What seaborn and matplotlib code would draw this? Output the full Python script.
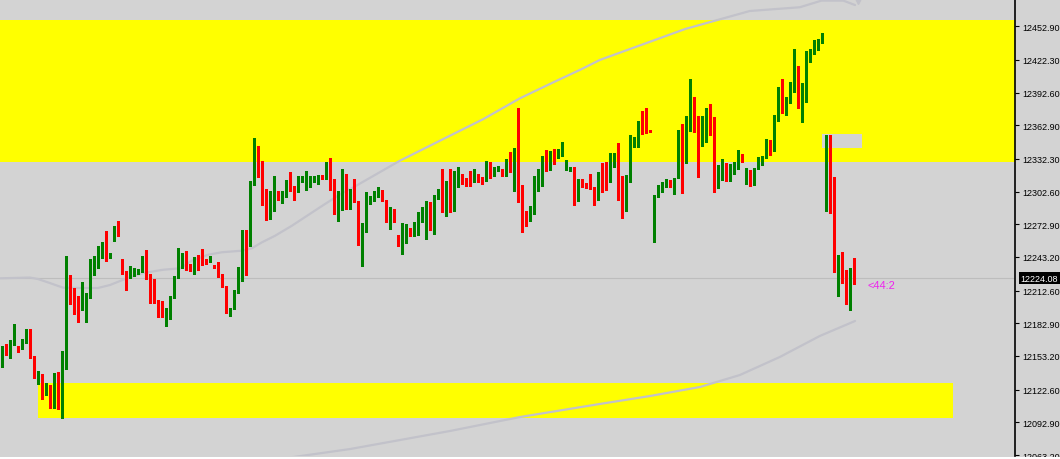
import numpy as np
import pandas as pd
import seaborn as sns
import matplotlib.pyplot as plt
import matplotlib.transforms as mtransforms
from matplotlib.patches import Rectangle

# candle data (one bar per slot)
open_ = [
    12150.7, 12157.7, 12157.1, 12163.5, 12161.4, 12161.4, 12168.0, 12176.8, 12152.3, 12134.4,
    12136.8, 12118.6, 12126.8, 12108.9, 12134.1, 12116.2, 12148.9, 12214.1, 12211.1, 12200.5,
    12195.3, 12194.4, 12209.5, 12232.3, 12233.2, 12246.5, 12256.8, 12243.5, 12263.2, 12271.1,
    12236.8, 12228.9, 12225.9, 12227.7, 12227.7, 12230.2, 12242.3, 12226.2, 12206.2, 12203.5,
    12195.0, 12193.2, 12194.4, 12206.2, 12233.5, 12236.8, 12240.5, 12234.4, 12231.6, 12239.5,
    12247.4, 12241.4, 12238.9, 12235.9, 12232.3, 12227.7, 12216.2, 12193.5, 12195.9, 12212.5,
    12233.8, 12262.3, 12256.5, 12317.1, 12343.2, 12317.7, 12297.4, 12288.4, 12294.4, 12303.2,
    12298.9, 12298.9, 12314.1, 12305.6, 12305.6, 12314.1, 12304.1, 12309.5, 12312.5, 12314.7,
    12316.8, 12314.1, 12329.3, 12312.5, 12285.9, 12293.4, 12310.4, 12293.4, 12302.0, 12294.1,
    12261.6, 12268.6, 12293.4, 12295.9, 12299.5, 12304.1, 12289.8, 12271.6, 12280.7, 12263.2,
    12253.4, 12263.2, 12265.6, 12262.5, 12268.6, 12277.7, 12281.4, 12289.8, 12270.7, 12298.3,
    12302.5, 12287.7, 12304.3, 12292.9, 12310.4, 12316.5, 12314.7, 12315.3, 12313.4, 12315.0,
    12314.1, 12314.1, 12324.1, 12318.6, 12321.6, 12322.3, 12318.6, 12331.4, 12324.1, 12338.3,
    12305.0, 12281.6, 12277.7, 12284.1, 12313.4, 12319.5, 12328.6, 12327.1, 12335.9, 12334.8,
    12336.8, 12324.1, 12321.6, 12325.0, 12294.4, 12312.5, 12308.6, 12307.7, 12306.8, 12301.6,
    12315.0, 12319.3, 12311.6, 12328.6, 12332.9, 12301.4, 12298.9, 12312.0, 12344.3, 12345.9,
    12366.2, 12365.0, 12358.6, 12266.2, 12298.0, 12303.4, 12310.2, 12312.5, 12307.4, 12315.6,
    12353.4, 12342.3, 12362.5, 12386.8, 12366.8, 12359.5, 12359.5, 12371.1, 12358.6, 12314.1,
    12320.2, 12323.8, 12315.0, 12320.2, 12324.1, 12334.3, 12310.2, 12322.3, 12312.5, 12323.2,
    12331.6, 12333.8, 12346.8, 12339.8, 12367.1, 12387.7, 12374.1, 12383.2, 12400.4, 12414.1,
    12390.4, 12392.3, 12424.1, 12428.6, 12434.7, 12437.7, 12308.0, 12354.1, 12290.4, 12235.3,
    12242.3, 12221.1, 12201.4, 12233.2,
]
high = [
    12162.5, 12164.1, 12167.7, 12182.3, 12162.5, 12168.3, 12177.7, 12177.3, 12152.8, 12139.3,
    12137.2, 12128.9, 12127.2, 12137.7, 12138.6, 12157.7, 12244.1, 12226.8, 12214.7, 12207.5,
    12220.5, 12210.9, 12241.4, 12244.1, 12252.9, 12257.1, 12266.8, 12247.1, 12271.5, 12275.9,
    12241.4, 12230.7, 12235.0, 12233.5, 12232.3, 12244.4, 12249.5, 12227.5, 12223.2, 12203.9,
    12203.2, 12197.1, 12207.9, 12226.3, 12251.4, 12246.8, 12248.6, 12236.8, 12242.9, 12245.0,
    12250.4, 12241.8, 12243.8, 12236.3, 12238.4, 12228.1, 12216.6, 12197.2, 12213.2, 12234.2,
    12268.0, 12268.0, 12312.5, 12351.3, 12344.3, 12330.4, 12305.0, 12303.4, 12317.1, 12303.6,
    12303.4, 12313.2, 12320.2, 12308.0, 12317.1, 12317.1, 12321.4, 12317.1, 12317.1, 12318.0,
    12317.7, 12329.8, 12333.4, 12314.1, 12303.4, 12323.2, 12318.6, 12305.0, 12314.1, 12294.5,
    12274.1, 12302.4, 12298.9, 12302.9, 12307.1, 12304.5, 12295.0, 12288.4, 12286.8, 12263.6,
    12274.1, 12273.2, 12269.3, 12274.7, 12283.8, 12288.4, 12294.4, 12292.9, 12299.3, 12305.0,
    12323.2, 12312.0, 12323.2, 12321.6, 12324.7, 12318.6, 12315.1, 12321.6, 12323.2, 12318.6,
    12315.6, 12330.2, 12329.8, 12324.7, 12326.2, 12323.2, 12332.7, 12338.3, 12342.0, 12378.3,
    12308.6, 12285.3, 12289.1, 12317.1, 12323.2, 12335.0, 12340.3, 12339.8, 12341.3, 12341.3,
    12348.0, 12331.4, 12325.3, 12325.4, 12314.1, 12314.1, 12310.9, 12318.6, 12307.2, 12320.0,
    12328.6, 12329.3, 12337.7, 12337.7, 12346.8, 12317.1, 12318.0, 12354.3, 12352.5, 12367.1,
    12375.6, 12378.3, 12358.8, 12299.3, 12308.6, 12311.1, 12314.1, 12312.9, 12314.7, 12358.6,
    12364.1, 12371.1, 12405.0, 12388.9, 12371.1, 12371.1, 12378.6, 12382.3, 12370.2, 12326.8,
    12332.3, 12328.6, 12327.7, 12329.3, 12340.4, 12336.8, 12323.8, 12322.7, 12323.8, 12334.3,
    12334.7, 12350.4, 12349.8, 12372.3, 12397.4, 12405.0, 12388.3, 12402.0, 12432.2, 12416.5,
    12401.1, 12430.7, 12432.2, 12440.4, 12441.3, 12447.2, 12353.8, 12354.5, 12316.2, 12245.0,
    12248.0, 12231.6, 12233.6, 12242.3,
]
low = [
    12143.5, 12154.4, 12151.6, 12163.0, 12157.1, 12159.5, 12165.3, 12151.4, 12133.5, 12127.7,
    12114.1, 12117.7, 12105.9, 12105.6, 12105.0, 12096.8, 12141.4, 12200.2, 12191.4, 12184.4,
    12195.0, 12184.4, 12205.6, 12227.1, 12232.8, 12242.3, 12239.5, 12242.3, 12258.0, 12262.5,
    12227.7, 12213.5, 12224.4, 12226.2, 12227.3, 12229.3, 12223.2, 12201.4, 12201.1, 12188.4,
    12188.4, 12180.7, 12186.8, 12205.8, 12224.1, 12232.9, 12231.6, 12230.7, 12227.7, 12231.6,
    12235.9, 12236.8, 12238.5, 12233.1, 12224.7, 12216.2, 12192.0, 12189.5, 12195.5, 12210.2,
    12221.6, 12226.8, 12253.4, 12308.6, 12315.6, 12290.4, 12277.1, 12277.7, 12285.3, 12295.3,
    12292.3, 12297.4, 12303.4, 12295.3, 12302.0, 12311.1, 12303.7, 12306.5, 12311.1, 12309.5,
    12314.1, 12313.7, 12304.1, 12282.3, 12276.2, 12286.2, 12286.8, 12286.8, 12292.9, 12254.4,
    12235.3, 12266.2, 12291.4, 12294.4, 12297.4, 12294.4, 12275.0, 12268.6, 12274.9, 12252.9,
    12245.9, 12255.9, 12262.3, 12262.0, 12263.2, 12274.7, 12259.5, 12267.7, 12264.1, 12295.9,
    12284.4, 12280.7, 12283.8, 12285.3, 12306.5, 12309.5, 12307.4, 12307.4, 12311.6, 12311.6,
    12309.5, 12312.5, 12315.0, 12316.5, 12321.2, 12317.1, 12317.1, 12320.7, 12303.4, 12292.9,
    12265.6, 12271.1, 12275.7, 12282.3, 12303.4, 12307.4, 12321.6, 12322.5, 12328.0, 12333.3,
    12335.3, 12322.7, 12321.2, 12290.4, 12294.0, 12306.8, 12305.6, 12305.0, 12290.6, 12295.3,
    12302.0, 12304.3, 12311.2, 12325.3, 12295.3, 12278.6, 12285.3, 12311.6, 12343.4, 12343.4,
    12355.0, 12355.6, 12356.9, 12257.1, 12297.4, 12302.5, 12306.5, 12306.9, 12300.4, 12315.2,
    12301.4, 12328.6, 12358.0, 12357.1, 12316.2, 12344.3, 12347.4, 12354.3, 12302.5, 12305.9,
    12313.2, 12312.5, 12312.5, 12318.6, 12323.2, 12329.8, 12309.5, 12307.4, 12308.9, 12322.8,
    12327.1, 12333.2, 12336.2, 12339.4, 12366.7, 12374.1, 12372.3, 12382.8, 12392.9, 12378.6,
    12366.2, 12384.3, 12420.2, 12427.7, 12431.6, 12437.3, 12285.3, 12282.9, 12229.3, 12208.0,
    12219.5, 12200.5, 12195.0, 12218.6,
]
close = [
    12157.5, 12156.8, 12164.7, 12174.1, 12158.6, 12167.7, 12175.0, 12152.0, 12134.4, 12136.8,
    12118.0, 12125.9, 12108.0, 12134.1, 12115.3, 12149.6, 12214.1, 12210.7, 12199.8, 12195.3,
    12196.2, 12210.5, 12233.2, 12235.0, 12247.7, 12255.6, 12239.9, 12245.9, 12271.1, 12265.0,
    12228.1, 12226.2, 12226.8, 12229.5, 12230.7, 12241.4, 12224.1, 12206.2, 12202.3, 12194.4,
    12192.3, 12195.0, 12207.5, 12225.9, 12237.7, 12240.5, 12236.8, 12231.4, 12237.1, 12236.8,
    12242.9, 12239.8, 12243.4, 12233.5, 12227.1, 12216.6, 12192.9, 12196.8, 12212.0, 12233.8,
    12262.5, 12257.1, 12309.5, 12343.2, 12317.1, 12298.0, 12289.8, 12295.9, 12303.4, 12298.9,
    12299.5, 12312.9, 12305.6, 12300.2, 12314.7, 12316.2, 12311.6, 12312.5, 12314.7, 12317.7,
    12315.0, 12329.3, 12308.0, 12285.9, 12301.4, 12319.5, 12293.4, 12302.0, 12293.4, 12261.6,
    12268.6, 12302.0, 12296.8, 12300.4, 12305.0, 12297.1, 12275.3, 12279.3, 12275.3, 12253.4,
    12265.0, 12266.2, 12262.5, 12269.5, 12277.7, 12282.3, 12289.8, 12270.7, 12298.9, 12302.0,
    12288.0, 12304.3, 12292.3, 12311.1, 12317.7, 12314.1, 12313.8, 12313.4, 12321.6, 12313.4,
    12311.6, 12324.1, 12320.2, 12323.2, 12324.1, 12320.2, 12332.3, 12324.1, 12338.3, 12303.4,
    12280.7, 12277.7, 12284.8, 12314.1, 12319.5, 12327.7, 12327.1, 12335.0, 12334.3, 12336.8,
    12339.8, 12328.6, 12324.5, 12293.4, 12311.5, 12307.4, 12306.5, 12305.6, 12299.5, 12315.0,
    12311.1, 12311.6, 12329.8, 12333.2, 12300.4, 12298.9, 12312.0, 12345.0, 12345.9, 12366.2,
    12364.1, 12358.0, 12357.1, 12298.9, 12305.9, 12310.4, 12312.5, 12307.4, 12314.1, 12352.0,
    12343.4, 12364.1, 12387.7, 12365.0, 12358.6, 12361.6, 12370.7, 12358.0, 12314.1, 12322.3,
    12324.1, 12315.0, 12323.2, 12327.1, 12333.2, 12331.4, 12322.3, 12312.5, 12322.3, 12331.4,
    12334.3, 12345.9, 12340.7, 12368.6, 12387.7, 12374.5, 12384.3, 12401.3, 12414.1, 12392.3,
    12393.4, 12426.2, 12429.8, 12436.8, 12439.8, 12446.8, 12353.4, 12292.9, 12235.3, 12241.4,
    12220.2, 12201.4, 12233.2, 12224.1,
]

# the two grey moving averages (bar slot -> price)
ma_top_idx = [-0.6, 6.9, 8.9, 11.9, 15.2, 19.4, 23.9, 26.9, 30.2, 35.2, 40.2, 44.4, 47.4,
              51.5, 54.9, 59.9, 62.4, 64.9, 68.2, 72.4, 76.5, 80.7, 84.9, 88.2, 99.4, 111.9,
              120.3, 129.4, 137.8, 144.9, 149.4, 170.7, 186.9, 199.4, 204.8, 210.3, 213.2]
ma_top_val = [12223.8, 12224.5, 12223.2, 12219.5, 12215.3, 12215.0, 12215.0, 12217.7, 12222.5,
              12228.6, 12231.6, 12232.9, 12239.8, 12245.3, 12247.5, 12248.9, 12251.1, 12256.5,
              12262.5, 12271.6, 12281.4, 12291.4, 12301.1, 12307.4, 12330.7, 12353.4, 12368.6,
              12387.4, 12402.0, 12414.1, 12422.3, 12450.4, 12466.8, 12470.2, 12476.2, 12476.2,
              12472.2]
ma_low_idx = [69.4, 86.9, 111.9, 129.4, 149.4, 161.9, 174.4, 184.4, 194.4, 204.4, 213.2]
ma_low_val = [12059.6, 12068.6, 12085.0, 12097.7, 12109.6, 12116.8, 12125.0, 12135.9,
              12152.3, 12171.4, 12185.0]

# zones
zone_top = (12329.5, 12458.6)
zone_bot = (12097.1, 12128.6)
zone_bot_from, zone_bot_to = 8.85, 237.7
box_from, box_to = 204.85, 214.85
box_lo, box_hi = 12342.5, 12355.0

last_price = 12224.08
last_label = "12224.08"
note_text = "<44:2"
note_at = (216.35, 12217.7)

tick_vals = [12452.90, 12422.30, 12392.60, 12362.90, 12332.30, 12302.60, 12272.90,
             12243.20, 12212.60, 12182.90, 12153.20, 12122.60, 12092.90, 12063.20]
tick_labels = ["12452.90", "12422.30", "12392.60", "12362.90", "12332.30", "12302.60",
               "12272.90", "12243.20", "12212.60", "12182.90", "12153.20", "12122.60",
               "12092.90", "12063.20"]

BG = "#D3D3D3"
sns.set_style("white", {"axes.facecolor": BG})
plt.rcParams['font.family'] = ['Liberation Sans', 'DejaVu Sans']

df = pd.DataFrame({"o": open_, "h": high, "l": low, "c": close})
df["i"] = np.arange(len(df))
cols = np.where(df["c"] >= df["o"], "#008000", "#FF0000")

fig = plt.figure(figsize=(10.6, 4.6), dpi=100, facecolor=BG)
ax = fig.add_axes([0, 3 / 460, 1015 / 1060, 457 / 460])
ax.set_facecolor(BG)

ax.axhspan(zone_top[0], zone_top[1], color="#FFFF00", lw=0, zorder=1)
ax.add_patch(Rectangle((zone_bot_from, zone_bot[0]), zone_bot_to - zone_bot_from,
                       zone_bot[1] - zone_bot[0], fc="#FFFF00", lw=0, zorder=1))
ax.add_patch(Rectangle((box_from, box_lo), box_to - box_from, box_hi - box_lo,
                       fc=BG, lw=0, zorder=1.5))

ax.axhline(last_price, color="#BDBDBD", lw=0.8, zorder=2)
sns.lineplot(x=ma_top_idx, y=ma_top_val, ax=ax, color="#C2C2CA", lw=1.6,
             sort=False, estimator=None, zorder=3)
sns.lineplot(x=ma_low_idx, y=ma_low_val, ax=ax, color="#C2C2CA", lw=1.6,
             sort=False, estimator=None, zorder=3)
ax.plot([213.9], [12475.9], marker="v", ms=4, color="#C2C2CA", lw=0, zorder=3, clip_on=False)

# candles
ax.vlines(df["i"], df["l"], df["h"], colors=cols, lw=0.75, zorder=4, antialiased=False)
body = (df["c"] - df["o"]).abs().clip(lower=0.9)
ax.bar(df["i"], body, bottom=df[["o", "c"]].min(axis=1), width=0.8, color=cols,
       lw=0, zorder=5, antialiased=False)

ax.text(note_at[0], note_at[1], note_text, color="#EE22EE", fontsize=8,
        ha="left", va="center", zorder=6)

ax.set_xlim(-0.575, 253.2)
ax.set_ylim(12062.3, 12477.7)
ax.set_xticks([])
ax.yaxis.tick_right()
ax.set_yticks(tick_vals)
ax.set_yticklabels(tick_labels)
ax.tick_params(axis="y", right=True, left=False, direction="out", length=3, width=0.8,
               labelsize=6.5, pad=2, colors="black")
for s in ["top", "left", "bottom"]:
    ax.spines[s].set_visible(False)
ax.spines["right"].set_color("black")
ax.spines["right"].set_linewidth(1.2)

trans = mtransforms.blended_transform_factory(ax.transAxes, ax.transData)
ax.text(1.0055, last_price, last_label, transform=trans, ha="left", va="center",
        color="white", fontsize=6.5, clip_on=False, zorder=10,
        bbox=dict(boxstyle="square,pad=0.2", fc="black", ec="none"))

fig.add_artist(Rectangle((0, 0), 1, 2.5 / 460, transform=fig.transFigure,
                         fc="white", lw=0, zorder=20))

fig.savefig("out.png", dpi=100, facecolor=fig.get_facecolor())
